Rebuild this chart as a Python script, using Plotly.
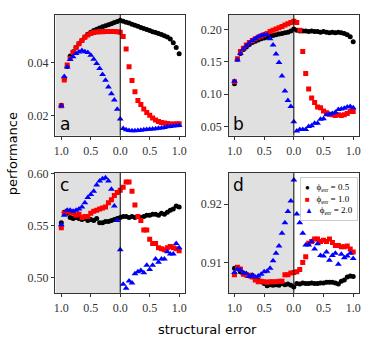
import plotly.graph_objects as go

# structural error: left half runs 1.0 -> 0.0, right half 0.05 -> 1.0
err_left = [1.0, 0.95, 0.9, 0.85, 0.8, 0.75, 0.7, 0.65, 0.6, 0.55, 0.5,
            0.45, 0.4, 0.35, 0.3, 0.25, 0.2, 0.15, 0.1, 0.05, 0.0]
err_right = [0.05, 0.1, 0.15, 0.2, 0.25, 0.3, 0.35, 0.4, 0.45, 0.5,
             0.55, 0.6, 0.65, 0.7, 0.75, 0.8, 0.85, 0.9, 0.95, 1.0]

phi_labels = ['0.5', '1.0', '2.0']
tick_labels = ['1.0', '0.5', '0.0', '0.5', '1.0']
panel_names = ['a', 'b', 'c', 'd']

a_phi05 = [0.0240, 0.0340, 0.0385, 0.0424, 0.0440, 0.0456, 0.0470, 0.0483, 0.0495, 0.0505, 0.0513,
           0.0519, 0.0524, 0.0529, 0.0533, 0.0537, 0.0541, 0.0545, 0.0549, 0.0553, 0.0558,
           0.0554, 0.0550, 0.0547, 0.0543, 0.0539, 0.0535, 0.0531, 0.0527, 0.0523, 0.0519,
           0.0515, 0.0512, 0.0508, 0.0504, 0.0500, 0.0495, 0.0488, 0.0474, 0.0456, 0.0432]
a_phi10 = [0.0238, 0.0334, 0.0390, 0.0415, 0.0437, 0.0455, 0.0470, 0.0482, 0.0494, 0.0503, 0.0508,
           0.0512, 0.0514, 0.0515, 0.0515, 0.0516, 0.0516, 0.0516, 0.0516, 0.0515, 0.0513,
           0.0497, 0.0450, 0.0384, 0.0332, 0.0290, 0.0258, 0.0243, 0.0226, 0.0213, 0.0202,
           0.0192, 0.0185, 0.0179, 0.0175, 0.0173, 0.0172, 0.0170, 0.0170, 0.0171, 0.0171]
a_phi20 = [0.0237, 0.0347, 0.0383, 0.0411, 0.0421, 0.0433, 0.0439, 0.0445, 0.0440, 0.0437, 0.0427,
           0.0412, 0.0396, 0.0377, 0.0355, 0.0333, 0.0308, 0.0283, 0.0259, 0.0225, 0.0188,
           0.0153, 0.0148, 0.0145, 0.0144, 0.0144, 0.0145, 0.0146, 0.0148, 0.0149, 0.0150,
           0.0151, 0.0152, 0.0154, 0.0155, 0.0157, 0.0159, 0.0160, 0.0162, 0.0163, 0.0164]

b_phi05 = [0.116, 0.154, 0.163, 0.169, 0.173, 0.177, 0.180, 0.182, 0.184, 0.186, 0.187,
           0.188, 0.190, 0.191, 0.192, 0.193, 0.194, 0.195, 0.196, 0.198, 0.201,
           0.199, 0.198, 0.198, 0.198, 0.197, 0.198, 0.197, 0.197, 0.196, 0.197,
           0.196, 0.195, 0.196, 0.195, 0.196, 0.195, 0.194, 0.192, 0.189, 0.181]
b_phi10 = [0.119, 0.155, 0.166, 0.171, 0.176, 0.180, 0.183, 0.186, 0.188, 0.190, 0.192,
           0.194, 0.197, 0.199, 0.201, 0.203, 0.205, 0.207, 0.209, 0.211, 0.213,
           0.211, 0.199, 0.166, 0.132, 0.108, 0.094, 0.087, 0.080, 0.079, 0.074,
           0.071, 0.069, 0.068, 0.067, 0.068, 0.067, 0.068, 0.070, 0.073, 0.073]
b_phi20 = [0.120, 0.153, 0.163, 0.170, 0.175, 0.179, 0.183, 0.186, 0.189, 0.191, 0.192,
           0.192, 0.186, 0.176, 0.162, 0.149, 0.128, 0.105, 0.090, 0.081, 0.057,
           0.043, 0.045, 0.045, 0.045, 0.050, 0.051, 0.055, 0.055, 0.061, 0.062,
           0.068, 0.069, 0.070, 0.072, 0.076, 0.077, 0.078, 0.080, 0.081, 0.079]

c_phi05 = [0.553, 0.563, 0.562, 0.558, 0.557, 0.558, 0.557, 0.556, 0.557, 0.555, 0.556,
           0.555, 0.557, 0.553, 0.553, 0.554, 0.554, 0.555, 0.556, 0.557, 0.558,
           0.559, 0.559, 0.558, 0.559, 0.558, 0.559, 0.558, 0.559, 0.560, 0.560,
           0.561, 0.561, 0.560, 0.562, 0.561, 0.563, 0.565, 0.566, 0.569, 0.568]
c_phi10 = [0.548, 0.562, 0.564, 0.563, 0.562, 0.560, 0.561, 0.558, 0.559, 0.559, 0.562,
           0.564, 0.565, 0.566, 0.567, 0.568, 0.572, 0.575, 0.579, 0.582, 0.584,
           0.587, 0.592, 0.592, 0.583, 0.570, 0.559, 0.555, 0.546, 0.546, 0.537,
           0.533, 0.533, 0.529, 0.528, 0.527, 0.529, 0.530, 0.529, 0.528, 0.526]
c_phi20 = [0.551, 0.560, 0.565, 0.565, 0.564, 0.565, 0.566, 0.568, 0.572, 0.577, 0.580,
           0.583, 0.589, 0.593, 0.595, 0.596, 0.593, 0.585, 0.569, 0.555, 0.527,
           0.494, 0.490, 0.497, 0.495, 0.504, 0.506, 0.507, 0.505, 0.512, 0.508,
           0.512, 0.518, 0.515, 0.518, 0.518, 0.525, 0.523, 0.523, 0.533, 0.529]

d_phi05 = [0.9090, 0.9090, 0.9084, 0.9082, 0.9078, 0.9077, 0.9078, 0.9072, 0.9070, 0.9067, 0.9064,
           0.9060, 0.9062, 0.9061, 0.9062, 0.9061, 0.9064, 0.9062, 0.9063, 0.9061, 0.9058,
           0.9064, 0.9063, 0.9065, 0.9064, 0.9064, 0.9065, 0.9064, 0.9064, 0.9065, 0.9065,
           0.9066, 0.9066, 0.9066, 0.9065, 0.9063, 0.9068, 0.9070, 0.9075, 0.9077, 0.9076]
d_phi10 = [0.9079, 0.9092, 0.9089, 0.9080, 0.9079, 0.9078, 0.9075, 0.9070, 0.9067, 0.9068, 0.9067,
           0.9066, 0.9067, 0.9067, 0.9067, 0.9068, 0.9068, 0.9079, 0.9079, 0.9082, 0.9083,
           0.9084, 0.9088, 0.9100, 0.9110, 0.9133, 0.9136, 0.9140, 0.9140, 0.9136, 0.9138,
           0.9136, 0.9140, 0.9134, 0.9129, 0.9129, 0.9127, 0.9127, 0.9128, 0.9123, 0.9118]
d_phi20 = [0.9083, 0.9089, 0.9087, 0.9082, 0.9081, 0.9076, 0.9078, 0.9075, 0.9077, 0.9080, 0.9084,
           0.9085, 0.9090, 0.9103, 0.9116, 0.9128, 0.9150, 0.9168, 0.9187, 0.9205, 0.9241,
           0.9183, 0.9168, 0.9150, 0.9130, 0.9130, 0.9136, 0.9123, 0.9132, 0.9112, 0.9111,
           0.9118, 0.9104, 0.9112, 0.9116, 0.9097, 0.9114, 0.9108, 0.9111, 0.9116, 0.9107]

panels = [
	[a_phi05, a_phi10, a_phi20],
	[b_phi05, b_phi10, b_phi20],
	[c_phi05, c_phi10, c_phi20],
	[d_phi05, d_phi10, d_phi20],
]

# left half drawn on 0..1 (reversed), right half on 1..2
xpos = [1 - e for e in err_left] + [1 + e for e in err_right]

colors = ['black', 'red', 'blue']
symbols = ['circle', 'square', 'triangle-up']
sizes = [5, 5, 6]
glyphs = ['●', '■', '▲']

x_domains = [[0.1444, 0.4947], [0.6123, 0.9652]]
y_domains = [[0.6152, 0.9738], [0.1487, 0.5044]]
y_ranges = [[0.0126, 0.0578], [0.0356, 0.2229], [0.4856, 0.6006], [0.9048, 0.9253]]
y_ticks = [[0.02, 0.04], [0.05, 0.10, 0.15, 0.20], [0.50, 0.55, 0.60], [0.91, 0.92]]

tick_font = dict(family='Liberation Serif', size=12, color='#333')

fig = go.Figure()
layout = {}
shapes = []
annotations = []

for p in range(4):
	r, c = p // 2, p % 2
	n = '' if p == 0 else str(p + 1)
	xa, ya = 'x' + n, 'y' + n
	for s in range(3):
		fig.add_trace(go.Scatter(
			x=xpos, y=panels[p][s],
			xaxis=xa, yaxis=ya,
			mode='markers',
			marker=dict(color=colors[s], symbol=symbols[s], size=sizes[s], line=dict(width=0)),
			name='ϕ<sub>err</sub> = ' + phi_labels[s],
			showlegend=False,
		))
	layout['xaxis' + n] = dict(
		domain=x_domains[c], anchor=ya, range=[-0.1, 2.1],
		tickvals=[0, 0.5, 1, 1.5, 2], ticktext=tick_labels,
		ticks='outside', ticklen=3.5, tickcolor='#333',
		showline=True, mirror=True, linecolor='#333', linewidth=1,
		showgrid=False, zeroline=False, tickfont=tick_font,
	)
	layout['yaxis' + n] = dict(
		domain=y_domains[r], anchor=xa, range=y_ranges[p],
		tickvals=y_ticks[p], ticktext=['%.2f' % v for v in y_ticks[p]],
		ticks='outside', ticklen=3.5, tickcolor='#333',
		showline=True, mirror=True, linecolor='#333', linewidth=1,
		showgrid=False, zeroline=False, tickfont=tick_font,
	)
	shapes.append(dict(type='rect', xref=xa, yref=ya + ' domain',
					   x0=-0.1, x1=1, y0=0, y1=1,
					   fillcolor='#e0e0e0', line=dict(width=0), layer='below'))
	shapes.append(dict(type='line', xref=xa, yref=ya + ' domain',
					   x0=1, x1=1, y0=0, y1=1,
					   line=dict(color='black', width=1)))
	annotations.append(dict(
		text=panel_names[p], xref=xa + ' domain', yref=ya + ' domain',
		x=0.02, y=(0.0 if r == 0 else 1.0),
		xanchor='left', yanchor=('bottom' if r == 0 else 'top'),
		showarrow=False, font=dict(family='DejaVu Sans', size=17, color='black'),
	))

# legend drawn as a text box (plotly's own legend rows are too tall here)
legend_lines = []
for s in range(3):
	legend_lines.append('<span style="color:%s;font-size:8px">%s</span>   ϕ<sub>err</sub> = %s'
						% (colors[s], glyphs[s], phi_labels[s]))
annotations.append(dict(
	text='<br>'.join(legend_lines), xref='paper', yref='paper',
	x=0.962, y=0.494, xanchor='right', yanchor='top', align='left',
	showarrow=False, bgcolor='white', bordercolor='#cccccc', borderwidth=1, borderpad=4,
	font=dict(family='Liberation Serif', size=9, color='black'),
))

annotations.append(dict(text='performance', xref='paper', yref='paper',
						x=0.027, y=0.563, xanchor='center', yanchor='middle',
						textangle=-90, showarrow=False,
						font=dict(family='DejaVu Sans', size=13, color='black')))
annotations.append(dict(text='structural error', xref='paper', yref='paper',
						x=0.555, y=0.041, xanchor='center', yanchor='middle', showarrow=False,
						font=dict(family='DejaVu Sans', size=13, color='black')))

fig.update_layout(
	width=374, height=343,
	margin=dict(l=0, r=0, t=0, b=0),
	paper_bgcolor='white', plot_bgcolor='white',
	shapes=shapes, annotations=annotations,
	**layout,
)

fig.write_html('out.html', config={'displayModeBar': False},
			   post_script="document.body.style.margin='0';")
